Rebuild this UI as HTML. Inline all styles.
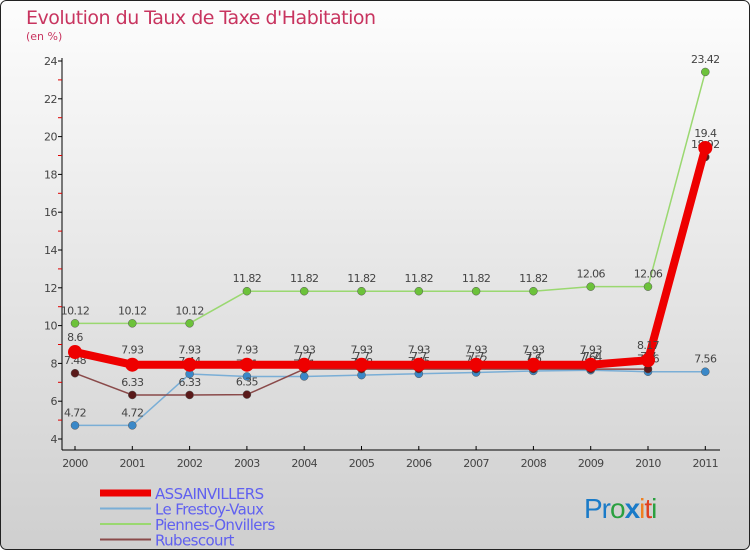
<!DOCTYPE html>
<html><head><meta charset="utf-8"><style>
html,body{margin:0;padding:0;width:750px;height:550px;overflow:hidden}
svg{display:block;font-family:"DejaVu Sans","Liberation Sans",sans-serif}
</style></head><body>
<svg id="chart" width="750" height="550">
<defs><linearGradient id="bg" x1="0" y1="0" x2="0" y2="1"><stop offset="0" stop-color="#fdfdfd"/><stop offset="1" stop-color="#cfcfcf"/></linearGradient></defs>
<rect x="0.5" y="0.5" width="749" height="549" rx="6" fill="url(#bg)" stroke="#222"/>
<text x="26" y="24" font-size="19" fill="#c8345f" style="letter-spacing:-0.5px">Evolution du Taux de Taxe d'Habitation</text>
<text x="26" y="40" font-size="11" fill="#c8345f">(en %)</text>
<g id="axes"></g><g id="series"></g><g id="legend"></g>
<text x="584" y="518" font-size="28" font-family="'Liberation Sans',sans-serif" letter-spacing="-1"><tspan fill="#1a7bc8">Pr</tspan><tspan fill="#2aa040">o</tspan><tspan fill="#1a7bc8" font-weight="bold">x</tspan><tspan fill="#f08020">i</tspan><tspan fill="#e04020">t</tspan><tspan fill="#2aa040">i</tspan></text>
</svg>
<script>
const years=["2000","2001","2002","2003","2004","2005","2006","2007","2008","2009","2010","2011"];
const yTicks=[4,6,8,10,12,14,16,18,20,22,24];
const assain=[8.6,7.93,7.93,7.93,7.93,7.93,7.93,7.93,7.93,7.93,8.17,19.4];
const frestoy=[4.72,4.72,7.44,7.31,7.31,7.38,7.45,7.52,7.6,7.64,7.56,7.56];
const piennes=[10.12,10.12,10.12,11.82,11.82,11.82,11.82,11.82,11.82,12.06,12.06,23.42];
const rubes=[7.48,6.33,6.33,6.35,7.7,7.7,7.7,7.7,7.7,7.7,7.7,18.92];
const seriesNames=["ASSAINVILLERS","Le Frestoy-Vaux","Piennes-Onvillers","Rubescourt"];
const NS="http://www.w3.org/2000/svg";
function X(i){return 75+i*57.3;}
function Y(v){return 439-(v-4)*18.9;}
function mk(t,a,p){const e=document.createElementNS(NS,t);for(const k in a)e.setAttribute(k,a[k]);p.appendChild(e);return e;}
const ax=document.getElementById('axes');
const yl=mk('line',{x1:62,y1:58,x2:62,y2:450,stroke:'#000'},ax);


const xl=mk('line',{x1:62,y1:450,x2:720,y2:450,stroke:'#000'},ax);


yTicks.forEach(v=>{
  mk('line',{x1:58,y1:Y(v),x2:62,y2:Y(v),stroke:'#000'},ax);
  if(v<24) mk('line',{x1:58,y1:Y(v+1),x2:62,y2:Y(v+1),stroke:'#d00'},ax);
  const t=mk('text',{x:57,y:Y(v)+4,'font-size':11,'text-anchor':'end',fill:'#444','letter-spacing':'-0.5'},ax);t.textContent=v;
  
  
});
years.forEach((y,i)=>{
  mk('line',{x1:X(i),y1:446,x2:X(i),y2:450,stroke:'#000'},ax);
  const t=mk('text',{x:X(i),y:467,'font-size':11,'text-anchor':'middle',fill:'#444','letter-spacing':'-0.6'},ax);t.textContent=y;
  
  
});
const sg=document.getElementById('series');
const defs=[
 {d:piennes,c:'#9ad870',dot:'#6cc23a',w:1.5,r:4,n:'piennes-onvillers-line'},
 {d:frestoy,c:'#7aaed6',dot:'#3a88c8',w:1.5,r:4,n:'le-frestoy-vaux-line'},
 {d:rubes,c:'#8a4a4a',dot:'#5a1a1a',w:1.5,r:4,n:'rubescourt-line'},
 {d:assain,c:'#ee0000',dot:'#ee0000',w:8,r:7,n:'assainvillers-line'}
];
defs.forEach(s=>{
  const g=mk('g',{},sg);
  
  
  mk('polyline',{points:s.d.map((v,i)=>X(i)+','+Y(v)).join(' '),fill:'none',stroke:s.c,'stroke-width':s.w,'stroke-linejoin':'round'},g);
  s.d.forEach((v,i)=>{
    const c=mk('circle',{cx:X(i),cy:Y(v),r:s.r,fill:s.dot,stroke:s.w>2?'none':'#555','stroke-width':0.5},g);
    
    
    const t=mk('text',{x:X(i),y:Y(v)-9-(s.w>2?2:0),'font-size':11,'text-anchor':'middle',fill:'#444','letter-spacing':'-0.6'},g);
    t.textContent=String(v);
    
    
  });
});
const lg=document.getElementById('legend');
const lc=[['#ee0000',7],['#7aaed6',2],['#9ad870',2],['#8a4a4a',2]];
seriesNames.forEach((n,i)=>{
  const y=493+i*15.5;
  const g=mk('g',{},lg);
  
  
  mk('line',{x1:100,y1:y,x2:151,y2:y,stroke:lc[i][0],'stroke-width':lc[i][1]},g);
  const t=mk('text',{x:155,y:y+6,'font-size':15,fill:'#6060f0'},g);t.textContent=n;
  t.setAttribute('letter-spacing','-0.6');
});
</script>
</body></html>
